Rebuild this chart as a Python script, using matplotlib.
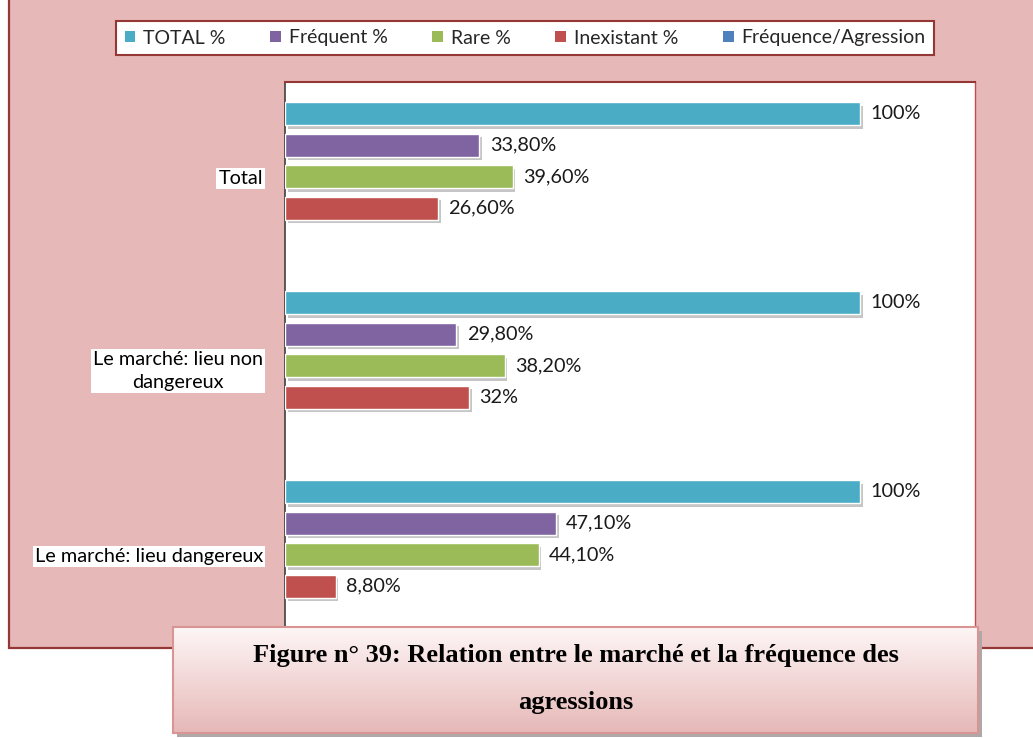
import numpy as np
import matplotlib.pyplot as plt
import matplotlib.patheffects as pe
from matplotlib.patches import Rectangle, Patch

categories = ["Total", "Le marché: lieu non\ndangereux", "Le marché: lieu dangereux"]
series = ["TOTAL %", "Fréquent %", "Rare %", "Inexistant %", "Fréquence/Agression"]
total = [100, 100, 100]
frequent = [33.8, 29.8, 47.1]
rare = [39.6, 38.2, 44.1]
inexistant = [26.6, 32.0, 8.8]
value_text = [["100%", "33,80%", "39,60%", "26,60%"],
              ["100%", "29,80%", "38,20%", "32%"],
              ["100%", "47,10%", "44,10%", "8,80%"]]
colors = ["#4BACC6", "#8064A2", "#9BBB59", "#C0504D", "#4F81BD"]
caption = "Figure n° 39: Relation entre le marché et la fréquence des\n\nagressions"

W, H = 1033, 738
fig = plt.figure(figsize=(W / 100, H / 100), dpi=100)
fig.patch.set_facecolor("white")

def px(x0, y0, x1, y1):
    # pixel box (top-left origin) -> figure fraction rect
    return [x0 / W, 1 - y1 / H, (x1 - x0) / W, (y1 - y0) / H]

# pink outer frame
bg = fig.add_axes([0, 0, 1, 1])
bg.set_xlim(0, W)
bg.set_ylim(H, 0)
bg.axis("off")
bg.add_patch(Rectangle((9, -10), W + 20, 658, facecolor="#E6B8B7",
                       edgecolor="#953735", lw=1.6))

ax = fig.add_axes(px(285, 82, 975, 640))
ax.set_facecolor("white")
ax.set_xlim(0, 120)
ax.set_ylim(2.534, -0.418)

step = 0.1667
height = 0.122
g = np.arange(len(categories))
shadow = [pe.SimplePatchShadow(offset=(2, -2.5), shadow_rgbFace="#7f7f7f", alpha=0.45),
          pe.Normal()]
for i, vals in enumerate([total, frequent, rare, inexistant]):
    ys = g + (i - 1.5) * step
    bars = ax.barh(ys, vals, height=height, color=colors[i], edgecolor="white",
                   lw=1.0, zorder=3)
    for b in bars:
        b.set_path_effects(shadow)
    for j, (y, v) in enumerate(zip(ys, vals)):
        ax.text(v + 1.8, y, value_text[j][i], va="center", ha="left",
                fontsize=14.3, family="Lato", color="#1a1a1a", zorder=4)

ax.set_yticks(g + 0.085)
ax.set_yticklabels(categories, fontsize=14.3, family="Lato",
                   multialignment="center", linespacing=1.45)
ax.tick_params(axis="y", length=0, pad=16)
for lab in ax.get_yticklabels():
    lab.set_bbox(dict(facecolor="white", edgecolor="none", pad=1.5))
ax.set_xticks([])
ax.spines["bottom"].set_visible(False)
ax.spines["left"].set_color("#404040")
ax.spines["left"].set_linewidth(1.2)
ax.spines["top"].set_color("#953735")
ax.spines["top"].set_linewidth(1.5)
ax.spines["right"].set_color("#C0504D")
ax.spines["right"].set_linewidth(1.0)

# legend
handles = [Patch(facecolor=c, edgecolor="none") for c in colors]
leg = fig.legend(handles, series, loc="center", ncol=5,
                 bbox_to_anchor=((117 + 933) / 2 / W, 1 - 38 / H),
                 prop={"family": "Lato", "size": 14},
                 frameon=True, framealpha=1, fancybox=False,
                 handlelength=0.55, handleheight=0.55, handletextpad=0.4,
                 columnspacing=2.3, borderpad=0.45)
leg.get_frame().set_edgecolor("#953735")
leg.get_frame().set_linewidth(1.5)
for t in leg.get_texts():
    t.set_color("#262626")

# caption box with shadow and gradient
sh = fig.add_axes(px(177, 631, 982, 737))
sh.axis("off")
sh.add_patch(Rectangle((0, 0), 1, 1, facecolor="#b0a8a8", edgecolor="none",
                       transform=sh.transAxes))
cap = fig.add_axes(px(173, 627, 978, 733))
grad = np.linspace(0, 1, 256)[:, None]
top = np.array([0.995, 0.965, 0.965])
bot = np.array([0.902, 0.722, 0.718])
img = top + (bot - top) * grad[..., None]
cap.imshow(img, aspect="auto", extent=[0, 1, 0, 1], origin="upper")
cap.set_xticks([])
cap.set_yticks([])
for s in cap.spines.values():
    s.set_color("#D99594")
    s.set_linewidth(1.5)
cap.text(0.5, 0.51, caption, ha="center", va="center", fontsize=19,
         family="Liberation Serif", weight="bold", linespacing=1.02,
         transform=cap.transAxes)

fig.savefig("out.png", dpi=100)
